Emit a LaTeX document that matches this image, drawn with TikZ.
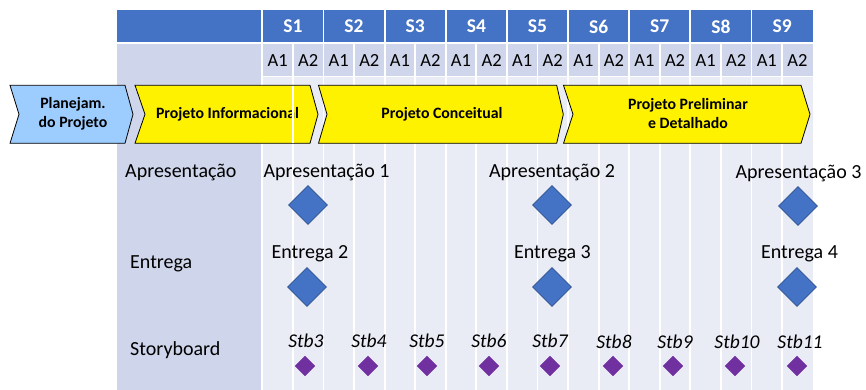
\documentclass[tikz,border=0pt]{standalone}
\usepackage{fontspec}
\setmainfont{Carlito}
\usetikzlibrary{shapes.geometric}
\definecolor{hdr}{HTML}{4472C4}
\definecolor{rowtwo}{HTML}{CFD5EA}
\definecolor{bodyc}{HTML}{E9EBF5}
\definecolor{lblue}{HTML}{9DCDFF}
\definecolor{purp}{HTML}{7030A0}
\definecolor{dborder}{HTML}{2F528F}
\begin{document}
\begin{tikzpicture}[x=1pt,y=-1pt,
  wline/.style={white,line width=1.8pt},
  shead/.style={font=\fontsize{19.5}{22}\selectfont\bfseries,text=white,inner sep=0pt},
  ahead/.style={font=\fontsize{18.5}{22}\selectfont,inner sep=0pt},
  chev/.style={draw=black,line width=0.8pt,line join=miter},
  chevtext/.style={font=\fontsize{15.8}{19}\selectfont\bfseries,align=center,inner sep=0pt},
  rowlbl/.style={font=\fontsize{20}{24}\selectfont,anchor=west,inner sep=0pt},
  mlbl/.style={font=\fontsize{20}{24}\selectfont,inner sep=0pt},
  stlbl/.style={font=\fontsize{19.5}{24}\selectfont\itshape,inner sep=0pt},
  bigdia/.style={diamond,aspect=1,fill=hdr,draw=dborder,line width=0.6pt,minimum width=39pt,minimum height=39pt,inner sep=0pt},
  smalldia/.style={diamond,aspect=1,fill=purp,draw=purp,line width=0.4pt,minimum width=20pt,minimum height=20pt,inner sep=0pt}
]
\useasboundingbox (0,0) rectangle (866,390);
% table backgrounds
\fill[hdr] (117,10) rectangle (813,43);
\fill[rowtwo] (117,43) rectangle (813,77);
\fill[bodyc] (262.3,77) rectangle (813,390);
\fill[rowtwo] (117,77) rectangle (262.3,390);
% white grid lines
\draw[wline] (117,43) -- (813,43);
\draw[wline] (262.3,76.5) -- (813,76.5);
\foreach \i in {0,...,8}{
  \draw[wline] (262.3+61.15*\i,10) -- (262.3+61.15*\i,390);
  \draw[wline] (262.3+61.15*\i+30.58,43) -- (262.3+61.15*\i+30.58,390);
}
% header labels
\foreach \i in {1,...,9}{
  \node[shead] (s\i) at (262.3+61.15*\i-30.58,26.5) {S\i};
  \node[ahead] (a\i a) at (262.3+61.15*\i-45.87,60.5) {A1};
  \node[ahead] (a\i b) at (262.3+61.15*\i-15.29,60.5) {A2};
}
% chevrons
\filldraw[chev,fill=lblue] (10,85.3) -- (125,85.3) -- (133,114.3) -- (125,143.3) -- (10,143.3) -- (19,114.3) -- cycle;
\filldraw[chev,fill=yellow] (135,85.3) -- (310,85.3) -- (318,114.3) -- (310,143.3) -- (135,143.3) -- (145,114.3) -- cycle;
\filldraw[chev,fill=yellow] (318.5,85.3) -- (556.7,85.3) -- (563.3,114.3) -- (556.7,143.3) -- (318.5,143.3) -- (327,114.3) -- cycle;
\filldraw[chev,fill=yellow] (563.5,85.3) -- (801,85.3) -- (810,114.3) -- (801,143.3) -- (563.5,143.3) -- (573,114.3) -- cycle;
\node[chevtext] (c0) at (73,113.5) {Planejam.\\do Projeto};
\node[chevtext] (c1) at (227.5,114) {Projeto Informacional};
\node[chevtext] (c2) at (442,114) {Projeto Conceitual};
\node[chevtext] (c3) at (688,113.5) {Projeto Preliminar\\e Detalhado};
\draw[white,line width=1.5pt] (293.2,85.8) -- (293.2,142.8);
% row labels
\node[rowlbl] (rl1) at (125,172.5) {Apresentação};
\node[rowlbl] (rl2) at (130,263.5) {Entrega};
\node[rowlbl] (rl3) at (130,350) {Storyboard};
% milestones
\node[mlbl] (ap1) at (326.5,172.5) {Apresentação 1};
\node[bigdia] (dap1) at (308,205) {};
\node[mlbl] (en2) at (310,254) {Entrega 2};
\node[bigdia] (den2) at (307,287) {};
\node[mlbl] (ap2) at (552,172.5) {Apresentação 2};
\node[bigdia] (dap2) at (552,205) {};
\node[mlbl] (en3) at (552.5,254) {Entrega 3};
\node[bigdia] (den3) at (552,287) {};
\node[mlbl] (ap3) at (798.5,173.5) {Apresentação 3};
\node[bigdia] (dap3) at (798,206) {};
\node[mlbl] (en4) at (799.5,254) {Entrega 4};
\node[bigdia] (den4) at (797,287) {};
% storyboards
\foreach \n/\lx/\dx/\ly in {3/306/305/341, 4/369/368/341, 5/427/427/341, 6/489/489/341, 7/550/550/341, 8/614/613/342, 9/675/673/342, 10/737/735/342, 11/800/797/342}{
  \node[stlbl] (stb\n) at (\lx,\ly) {Stb\n};
  \node[smalldia] (dstb\n) at (\dx,366) {};
}
\end{tikzpicture}
\end{document}
